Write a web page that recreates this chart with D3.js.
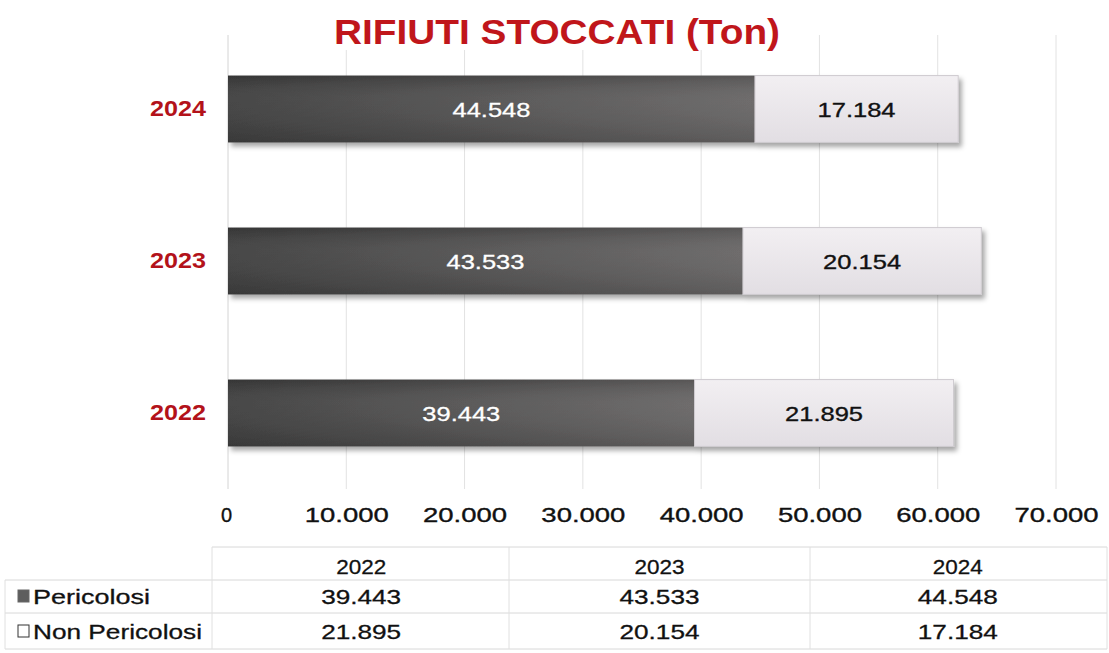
<!DOCTYPE html>
<html><head><meta charset="utf-8">
<script src="https://cdn.jsdelivr.net/npm/d3@7"></script>
<style>html,body{margin:0;padding:0;background:#fff;}svg{display:block;font-family:"Liberation Sans",Arial,sans-serif;}</style>
</head><body>
<svg id="chart" width="1109" height="653"></svg>
<script>
const years = ["2022", "2023", "2024"];
const pericolosi = [39443, 43533, 44548];
const nonPericolosi = [21895, 20154, 17184];
const seriesNames = ["Pericolosi", "Non Pericolosi"];
const xTicks = [0, 10000, 20000, 30000, 40000, 50000, 60000, 70000];
const title = "RIFIUTI STOCCATI (Ton)";

const it = d3.formatLocale({decimal: ",", thousands: ".", grouping: [3], currency: ["", " €"]});
const fmt = it.format(",d");

const svg = d3.select("#chart");

const defs = svg.append("defs");
const gDark = defs.append("linearGradient").attr("id", "gDark").attr("x1", 0).attr("x2", 1).attr("y1", 0).attr("y2", 0);
gDark.append("stop").attr("offset", "0%").attr("stop-color", "#3e3e3e");
gDark.append("stop").attr("offset", "100%").attr("stop-color", "#676565");
const gDarkV = defs.append("linearGradient").attr("id", "gDarkV").attr("x1", 0).attr("x2", 0).attr("y1", 0).attr("y2", 1);
gDarkV.append("stop").attr("offset", "0%").attr("stop-color", "#000").attr("stop-opacity", 0.15);
gDarkV.append("stop").attr("offset", "40%").attr("stop-color", "#fff").attr("stop-opacity", 0.05);
gDarkV.append("stop").attr("offset", "100%").attr("stop-color", "#000").attr("stop-opacity", 0.1);
const gLight = defs.append("linearGradient").attr("id", "gLight").attr("x1", 0).attr("x2", 0).attr("y1", 0).attr("y2", 1);
gLight.append("stop").attr("offset", "0%").attr("stop-color", "#f2eff2");
gLight.append("stop").attr("offset", "100%").attr("stop-color", "#e2dee3");
const sh = defs.append("filter").attr("id", "shadow").attr("x", "-5%").attr("y", "-20%").attr("width", "115%").attr("height", "150%");
sh.append("feDropShadow").attr("dx", 3).attr("dy", 4).attr("stdDeviation", 2.5).attr("flood-color", "#000").attr("flood-opacity", 0.35);

const x = d3.scaleLinear().domain([0, 70000]).range([228, 1056]);
const y = d3.scaleBand().domain(years.slice().reverse()).range([33, 489]).paddingInner(0.56).paddingOuter(0.28);

// Grid
svg.append("g").selectAll("line").data(xTicks).join("line")
  .attr("x1", d => x(d)).attr("x2", d => x(d)).attr("y1", 35).attr("y2", 489)
  .attr("stroke", d => d === 0 ? "#d4d4d4" : "#e2e2e2").attr("stroke-width", 1);

// X axis labels
const xAxis = d3.axisBottom(x).tickValues(xTicks).tickFormat(d => fmt(d)).tickSize(0).tickPadding(0);
const xg = svg.append("g").attr("transform", "translate(0,507)").call(xAxis);
xg.select(".domain").remove();
xg.selectAll("text").attr("font-size", 20).attr("fill", "#111").attr("font-family", "Liberation Sans, Arial, sans-serif")
  .attr("stroke", "#111").attr("stroke-width", 0.35)
  .attr("dy", "0.75em")
  .each(function(d){ if (d !== 0) d3.select(this).attr("textLength", 84).attr("lengthAdjust", "spacingAndGlyphs"); });
xg.selectAll(".tick").filter(d => d === 0).select("text").attr("dx", -2);

// Y axis labels
const yAxis = d3.axisLeft(y).tickSize(0).tickPadding(0);
const yg = svg.append("g").attr("transform", "translate(206,0)").call(yAxis);
yg.select(".domain").remove();
yg.selectAll("text").attr("font-size", 22).attr("font-weight", "bold").attr("fill", "#b3121a")
  .attr("font-family", "Liberation Sans, Arial, sans-serif")
  .attr("textLength", 56).attr("lengthAdjust", "spacingAndGlyphs");

// Bars
const data = years.map((yr, i) => ({year: yr, p: pericolosi[i], n: nonPericolosi[i]}));
const bars = svg.append("g");
const groups = bars.selectAll("g").data(data).join("g").attr("filter", "url(#shadow)");
groups.append("rect").attr("x", x(0)).attr("y", d => y(d.year))
  .attr("width", d => x(d.p) - x(0)).attr("height", y.bandwidth()).attr("fill", "url(#gDark)");
groups.append("rect").attr("x", x(0)).attr("y", d => y(d.year))
  .attr("width", d => x(d.p) - x(0)).attr("height", y.bandwidth()).attr("fill", "url(#gDarkV)");
groups.append("rect").attr("x", d => x(d.p)).attr("y", d => y(d.year))
  .attr("width", d => x(d.p + d.n) - x(d.p)).attr("height", y.bandwidth())
  .attr("fill", "url(#gLight)").attr("stroke", "#cfcbd0").attr("stroke-width", 1);

const lbl = svg.append("g");
lbl.selectAll("text.p").data(data).join("text").attr("class", "p")
  .attr("x", d => (x(0) + x(d.p)) / 2).attr("y", d => y(d.year) + y.bandwidth() / 2)
  .attr("dy", "0.36em").attr("text-anchor", "middle").attr("font-size", 21).attr("fill", "#fff")
  .attr("stroke", "#fff").attr("stroke-width", 0.3)
  .attr("textLength", 78).attr("lengthAdjust", "spacingAndGlyphs")
  .text(d => fmt(d.p));
lbl.selectAll("text.n").data(data).join("text").attr("class", "n")
  .attr("x", d => (x(d.p) + x(d.p + d.n)) / 2).attr("y", d => y(d.year) + y.bandwidth() / 2)
  .attr("dy", "0.36em").attr("text-anchor", "middle").attr("font-size", 21).attr("fill", "#111")
  .attr("stroke", "#111").attr("stroke-width", 0.35)
  .attr("textLength", 78).attr("lengthAdjust", "spacingAndGlyphs")
  .text(d => fmt(d.n));

// Data table
const tx = d3.scaleBand().domain(years).range([212, 1107]);
const rowsY = [547, 580, 613, 649];
const tbl = svg.append("g");
tbl.selectAll("line.h").data(rowsY).join("line").attr("class", "h")
  .attr("x1", (d, i) => i === 0 ? 212 : 5).attr("x2", 1107).attr("y1", d => d).attr("y2", d => d)
  .attr("stroke", "#d8d8d8");
const vx = [5, 212, 509, 810, 1107];
tbl.selectAll("line.v").data(vx).join("line").attr("class", "v")
  .attr("x1", d => d).attr("x2", d => d).attr("y1", (d, i) => i === 0 ? 580 : 547).attr("y2", 649)
  .attr("stroke", "#e0e0e0");
tbl.selectAll("text.hd").data(years).join("text").attr("class", "hd")
  .attr("x", d => tx(d) + tx.bandwidth() / 2).attr("y", 566).attr("dy", "0.36em")
  .attr("text-anchor", "middle").attr("font-size", 21).attr("fill", "#111")
  .attr("stroke", "#111").attr("stroke-width", 0.3)
  .attr("textLength", 50).attr("lengthAdjust", "spacingAndGlyphs").text(d => d);
const rowSeries = [pericolosi, nonPericolosi];
const rowCenters = [596, 631];
rowSeries.forEach((vals, r) => {
  tbl.selectAll("text.r" + r).data(vals).join("text").attr("class", "r" + r)
    .attr("x", (d, i) => tx(years[i]) + tx.bandwidth() / 2).attr("y", rowCenters[r]).attr("dy", "0.36em")
    .attr("text-anchor", "middle").attr("font-size", 21).attr("fill", "#111")
    .attr("stroke", "#111").attr("stroke-width", 0.3)
    .attr("textLength", 80).attr("lengthAdjust", "spacingAndGlyphs").text(d => fmt(d));
});
const keyFill = ["#5e5e5e", "#ffffff"];
seriesNames.forEach((nm, r) => {
  tbl.append("rect").attr("x", 18).attr("y", rowCenters[r] - 6).attr("width", 11).attr("height", 12)
    .attr("fill", keyFill[r]).attr("stroke", r === 0 ? "#666" : "#333").attr("stroke-width", 1);
  tbl.append("text").attr("x", 33).attr("y", rowCenters[r]).attr("dy", "0.36em")
    .attr("font-size", 21).attr("fill", "#111")
    .attr("stroke", "#111").attr("stroke-width", 0.3)
    .attr("textLength", r === 0 ? 117 : 169).attr("lengthAdjust", "spacingAndGlyphs").text(nm);
});

// Title (on top)
svg.append("rect").attr("x", 325).attr("y", 10).attr("width", 464).attr("height", 40).attr("fill", "#fff");
svg.append("text").attr("x", 557).attr("y", 44).attr("text-anchor", "middle")
  .attr("font-size", 35).attr("font-weight", "bold").attr("fill", "#c0161b")
  .attr("textLength", 446).attr("lengthAdjust", "spacingAndGlyphs").text(title);
</script>
</body></html>
